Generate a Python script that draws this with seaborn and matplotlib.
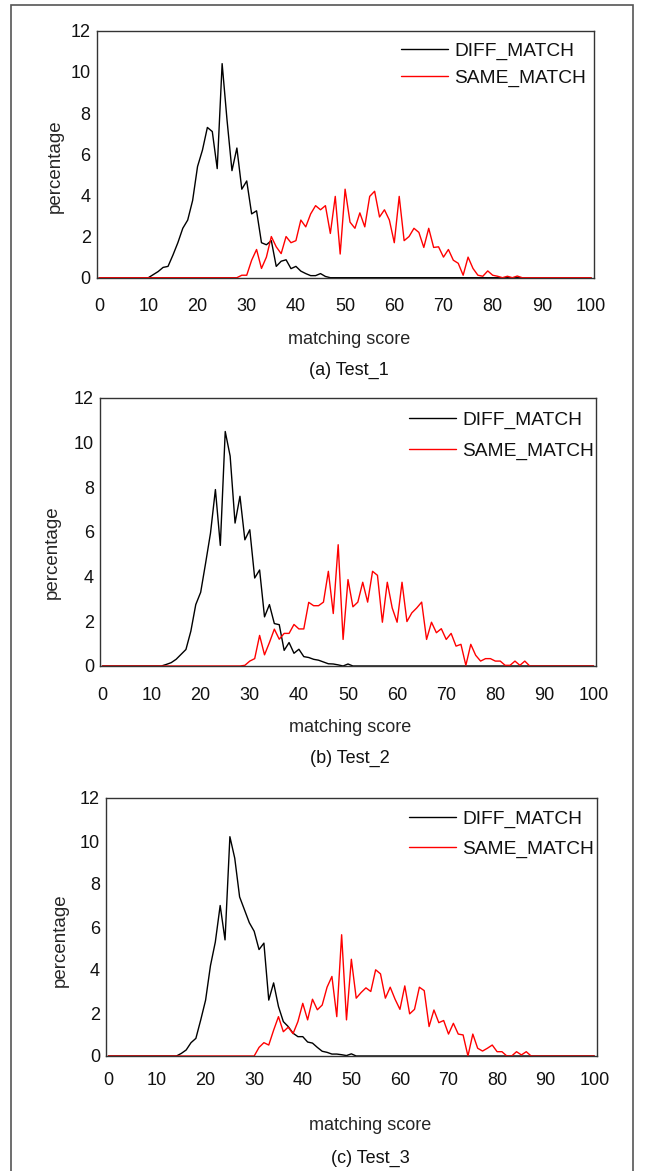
import numpy as np
import pandas as pd
import matplotlib
matplotlib.use("Agg")
import matplotlib.pyplot as plt
from matplotlib.patches import Rectangle
import seaborn as sns

# ---------------- data ----------------
scores = list(range(0, 101))
series_names = ["DIFF_MATCH", "SAME_MATCH"]
panel_captions = ["(a) Test_1", "(b) Test_2", "(c) Test_3"]
x_ticks = list(range(0, 101, 10))
y_ticks = list(range(0, 13, 2))

def full(start, vals):
    out = [0.0] * 101
    for i, v in enumerate(vals):
        out[start + i] = v
    return out

# Test_1
diff1 = full(11, [0.15, 0.3, 0.5, 0.55, 1.1, 1.7, 2.4, 2.8, 3.75, 5.4,
                  6.2, 7.3, 7.1, 5.3, 10.4, 7.65, 5.2, 6.3, 4.3, 4.7,
                  3.1, 3.25, 1.7, 1.6, 1.8, 0.55, 0.8, 0.87, 0.44, 0.55,
                  0.32, 0.2, 0.1, 0.1, 0.2, 0.06, 0.0])
same1 = full(29, [0.12, 0.12, 0.85, 1.37, 0.45, 1.0, 2.0, 1.5, 1.17, 2.0,
                  1.7, 1.8, 2.8, 2.47, 3.1, 3.5, 3.3, 3.5, 2.15, 3.95,
                  1.15, 4.3, 2.7, 2.4, 3.15, 2.47, 3.95, 4.2, 2.95, 3.3,
                  2.8, 1.7, 3.95, 1.8, 2.0, 2.4, 2.2, 1.47, 2.4, 1.47,
                  1.5, 1.0, 1.37, 0.85, 0.7, 0.12, 1.0, 0.45, 0.12, 0.07,
                  0.33, 0.12, 0.07, 0.0, 0.07, 0.0, 0.08, 0.0])
# Test_2
diff2 = full(13, [0.07, 0.15, 0.3, 0.52, 0.74, 1.56, 2.75, 3.3, 4.6, 5.95,
                  7.9, 5.4, 10.5, 9.4, 6.4, 7.6, 5.65, 6.1, 3.94, 4.3,
                  2.2, 2.75, 1.9, 1.85, 0.7, 1.05, 0.57, 0.75, 0.42, 0.38,
                  0.3, 0.26, 0.18, 0.1, 0.09, 0.05, 0.0, 0.09, 0.0])
same2 = full(29, [0.03, 0.22, 0.33, 1.37, 0.5, 1.05, 1.65, 1.2, 1.46, 1.46,
                  1.86, 1.66, 1.66, 2.85, 2.7, 2.7, 2.86, 4.24, 2.35, 5.43,
                  1.19, 3.87, 2.65, 2.86, 3.75, 2.86, 4.24, 4.06, 1.96, 3.75,
                  2.6, 1.96, 3.75, 1.99, 2.38, 2.6, 2.86, 1.19, 1.96, 1.49,
                  1.67, 1.19, 1.46, 0.89, 0.97, 0.03, 0.97, 0.48, 0.22, 0.33,
                  0.33, 0.22, 0.22, 0.03, 0.03, 0.22, 0.03, 0.22, 0.0])
# Test_3
diff3 = full(14, [0.0, 0.12, 0.28, 0.62, 0.82, 1.68, 2.6, 4.2, 5.3, 7.0,
                  5.4, 10.2, 9.2, 7.4, 6.8, 6.2, 5.8, 4.95, 5.25, 2.6,
                  3.4, 2.3, 1.6, 1.37, 1.06, 0.9, 0.9, 0.65, 0.6, 0.4,
                  0.22, 0.17, 0.09, 0.09, 0.06, 0.02, 0.1, 0.0])
same3 = full(31, [0.4, 0.62, 0.51, 1.2, 1.83, 1.13, 1.34, 1.04, 1.6, 2.45,
                  1.68, 2.64, 2.15, 2.37, 3.2, 3.7, 1.83, 5.64, 1.68, 4.5,
                  2.69, 2.95, 3.17, 3.0, 4.01, 3.82, 2.69, 3.2, 2.64, 2.17,
                  3.26, 1.96, 2.17, 3.2, 3.04, 1.37, 2.14, 1.55, 1.65, 1.02,
                  1.52, 1.02, 0.98, 0.0, 1.02, 0.36, 0.23, 0.36, 0.51, 0.2,
                  0.2, 0.0, 0.0, 0.2, 0.05, 0.2, 0.0])

panels = [(diff1, same1), (diff2, same2), (diff3, same3)]

# ---------------- style ----------------
sns.set_theme(style="white")
plt.rcParams["font.family"] = ["Liberation Sans", "DejaVu Sans"]
plt.rcParams["text.color"] = "#111111"
FS = 13
LFS = 13.8

W, H = 645, 1171
fig = plt.figure(figsize=(W / 100, H / 100), dpi=100)
fig.patch.set_facecolor("white")

# layout (pixel boxes: left, top, right, bottom)
boxes = [(96.7, 30.7, 593.5, 277.7),
         (100.0, 398.0, 596.0, 666.0),
         (106.0, 798.0, 596.7, 1056.0)]
xtick_pad = [14.7, 15.2, 11.6]
ylabel_pos = [(55, 166), (52, 552), (60, 940)]
xlabel_pos = [(349, 339), (350, 727), (370, 1126)]
caption_pos = [(349, 370), (350, 758), (370, 1158)]
legend_anchor = [(400.7, 42.0), (409, 411), (409, 810)]
legend_spacing = [0.52, 0.7, 0.65]

palette = {"DIFF_MATCH": "#000000", "SAME_MATCH": "#ff0000"}

for i, ((d, s), (l, t, r, b)) in enumerate(zip(panels, boxes)):
    ax = fig.add_axes([l / W, 1 - b / H, (r - l) / W, (b - t) / H])
    df = pd.DataFrame({
        "score": scores + scores,
        "percentage": d + s,
        "series": [series_names[0]] * 101 + [series_names[1]] * 101,
    })
    sns.lineplot(data=df, x="score", y="percentage", hue="series",
                 hue_order=series_names, palette=palette, linewidth=1.0,
                 errorbar=None, ax=ax)
    ax.set_xlim(-0.5, 100.5)
    ax.set_ylim(0, 12)
    ax.set_xticks(x_ticks)
    ax.set_yticks(y_ticks)
    ax.tick_params(axis="x", length=0, pad=xtick_pad[i], labelsize=FS, colors="#111111")
    ax.tick_params(axis="y", length=0, pad=4.3, labelsize=FS, colors="#111111")
    for sp in ax.spines.values():
        sp.set_color("#333333")
        sp.set_linewidth(1.0)
    ax.grid(False)

    ax.set_xlabel("matching score", fontsize=FS)
    ax.set_ylabel("percentage", fontsize=13.5)
    xl, yl = xlabel_pos[i]
    ax.xaxis.set_label_coords((xl - l) / (r - l), (b - yl) / (b - t))
    ax.xaxis.label.set_va("center")
    yx, yy = ylabel_pos[i]
    ax.yaxis.set_label_coords((yx - l) / (r - l), (b - yy) / (b - t))
    ax.yaxis.label.set_va("center")

    ax.legend(loc="upper left",
              bbox_to_anchor=(legend_anchor[i][0] / W, 1 - legend_anchor[i][1] / H),
              bbox_transform=fig.transFigure, frameon=False, borderpad=0,
              borderaxespad=0, handlelength=2.45, handletextpad=0.33,
              labelspacing=legend_spacing[i], fontsize=LFS, title=None)

    cx, cy = caption_pos[i]
    fig.text(cx / W, 1 - cy / H, panel_captions[i], ha="center", va="center",
             fontsize=FS)

# outer frame
fig.patches.append(Rectangle((11 / W, -0.01), (633 - 11) / W, 1 - 5 / H + 0.01,
                             transform=fig.transFigure, fill=False,
                             edgecolor="#555555", linewidth=1.2))

fig.savefig("out.png", dpi=100)
